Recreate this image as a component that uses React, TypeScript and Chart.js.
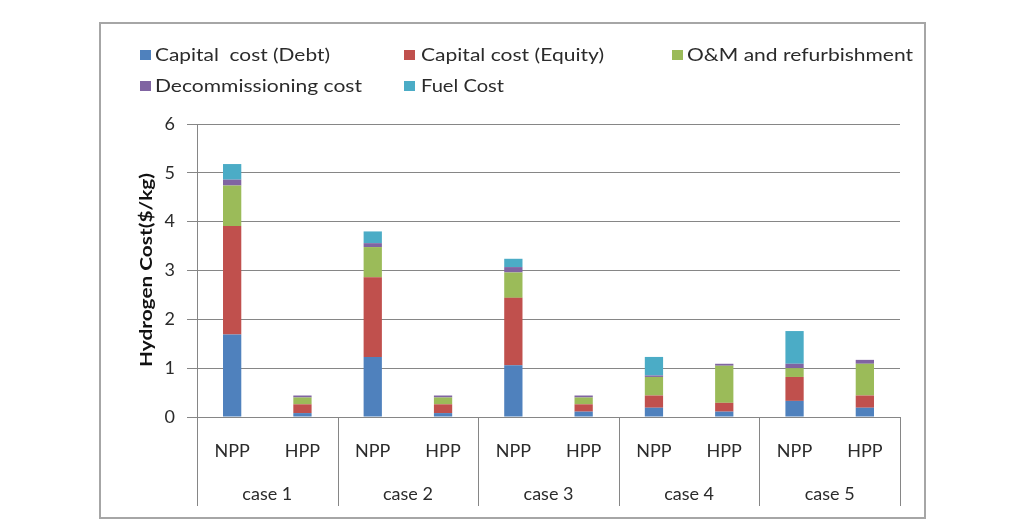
import React, { useEffect, useRef } from "react";
import { Chart, registerables } from "chart.js";

Chart.register(...registerables);

const categories = ["NPP", "HPP", "NPP", "HPP", "NPP", "HPP", "NPP", "HPP", "NPP", "HPP"];
const cases = ["case 1", "case 2", "case 3", "case 4", "case 5"];
const yTicks = [0, 1, 2, 3, 4, 5, 6];

const debt = [1.69, 0.08, 1.23, 0.08, 1.06, 0.11, 0.19, 0.11, 0.33, 0.19];
const equity = [2.22, 0.18, 1.63, 0.18, 1.38, 0.15, 0.25, 0.18, 0.49, 0.25];
const om = [0.83, 0.14, 0.62, 0.14, 0.52, 0.14, 0.38, 0.76, 0.18, 0.65];
const decom = [0.12, 0.04, 0.08, 0.04, 0.11, 0.04, 0.03, 0.04, 0.09, 0.08];
const fuel = [0.32, 0, 0.24, 0, 0.17, 0, 0.38, 0, 0.67, 0];

const seriesLabels = [
  "Capital  cost (Debt)",
  "Capital cost (Equity)",
  "O&M and refurbishment",
  "Decommissioning cost",
  "Fuel Cost",
];
const seriesColors = ["#4f81bd", "#c0504d", "#9bbb59", "#8064a2", "#4bacc6"];

const FONT = "Lato, 'DejaVu Sans', sans-serif";
const TEXT = "#2b2b2b";
const GRID = "#868686";

// legend layout: marker x, text x, row y, text width
const legendPos = [
  [140, 155, 55, 175],
  [404, 421, 55, 183],
  [672, 687, 55, 226],
  [140, 155, 86, 207],
  [404, 421, 86, 83],
];

function fitText(ctx: CanvasRenderingContext2D, text: string, x: number, y: number, width: number) {
  const m = ctx.measureText(text).width;
  const s = m > 0 ? width / m : 1;
  ctx.save();
  ctx.translate(x, y);
  ctx.scale(s, 1);
  ctx.fillText(text, 0, 0);
  ctx.restore();
}

const decorPlugin = {
  id: "decor",
  afterDraw(chart: any) {
    const ctx = chart.ctx;
    const area = chart.chartArea;
    const xs = chart.scales.x;
    ctx.save();
    // outer frame
    ctx.strokeStyle = "#a6a6a6";
    ctx.lineWidth = 2;
    ctx.strokeRect(100, 23, 825, 495);

    // case separators and labels
    const n = cases.length;
    const w = (xs.right - xs.left) / n;
    ctx.strokeStyle = GRID;
    ctx.lineWidth = 1;
    for (let i = 0; i <= n; i++) {
      const x = Math.round(xs.left + i * w) + 0.5;
      ctx.beginPath();
      ctx.moveTo(x, area.bottom);
      ctx.lineTo(x, 506);
      ctx.stroke();
    }
    ctx.fillStyle = TEXT;
    ctx.font = `18px ${FONT}`;
    ctx.textAlign = "center";
    ctx.textBaseline = "middle";
    for (let i = 0; i < n; i++) {
      ctx.fillText(cases[i], xs.left + (i + 0.5) * w, 494);
    }

    // y title
    ctx.save();
    ctx.translate(147, 270);
    ctx.rotate(-Math.PI / 2);
    ctx.font = `bold 17px ${FONT}`;
    ctx.fillStyle = "#111";
    ctx.textAlign = "left";
    const tw = ctx.measureText("Hydrogen Cost($/kg)").width;
    const sc = 194 / tw;
    ctx.scale(sc, 1);
    ctx.fillText("Hydrogen Cost($/kg)", -tw / 2, 0);
    ctx.restore();

    // legend
    ctx.font = `18px ${FONT}`;
    ctx.textAlign = "left";
    ctx.textBaseline = "middle";
    chart.data.datasets.forEach((ds: any, i: number) => {
      const [mx, tx, y, tw2] = legendPos[i];
      ctx.fillStyle = ds.backgroundColor;
      ctx.fillRect(mx, y - 5, 11, 10);
      ctx.fillStyle = TEXT;
      fitText(ctx, ds.label, tx, y, tw2);
    });
    ctx.restore();
  },
};

export default function App() {
  const ref = useRef<HTMLCanvasElement>(null);
  useEffect(() => {
    if (!ref.current) return;
    const series = [debt, equity, om, decom, fuel];
    const chart = new Chart(ref.current, {
      type: "bar",
      data: {
        labels: categories,
        datasets: series.map((d, i) => ({
          label: seriesLabels[i],
          data: d,
          backgroundColor: seriesColors[i],
          borderWidth: 0,
          categoryPercentage: 1,
          barPercentage: 0.26,
        })),
      },
      options: {
        responsive: false,
        animation: false,
        layout: { padding: { top: 124, right: 111, left: 0, bottom: 0 } },
        plugins: { legend: { display: false }, tooltip: { enabled: false } },
        scales: {
          x: {
            stacked: true,
            afterFit: (s: any) => {
              s.height = 110;
            },
            grid: { display: false, drawTicks: false },
            border: { display: true, color: GRID, width: 1 },
            ticks: {
              padding: 23,
              color: TEXT,
              font: { family: FONT, size: 18 },
              maxRotation: 0,
              autoSkip: false,
            },
          },
          y: {
            stacked: true,
            min: 0,
            max: 6,
            afterFit: (s: any) => {
              s.width = 197;
            },
            afterBuildTicks: (s: any) => {
              s.ticks = yTicks.map((v) => ({ value: v }));
            },
            grid: { color: GRID, lineWidth: 1, tickLength: 10 },
            border: { display: true, color: GRID, width: 1 },
            ticks: {
              padding: 12,
              color: TEXT,
              font: { family: FONT, size: 18 },
            },
          },
        },
      },
      plugins: [decorPlugin],
    });
    return () => chart.destroy();
  }, []);
  return (
    <div style={{ position: "fixed", left: 0, top: 0, width: 1011, height: 527, background: "#fff" }}>
      <canvas ref={ref} width={1011} height={527} />
    </div>
  );
}
